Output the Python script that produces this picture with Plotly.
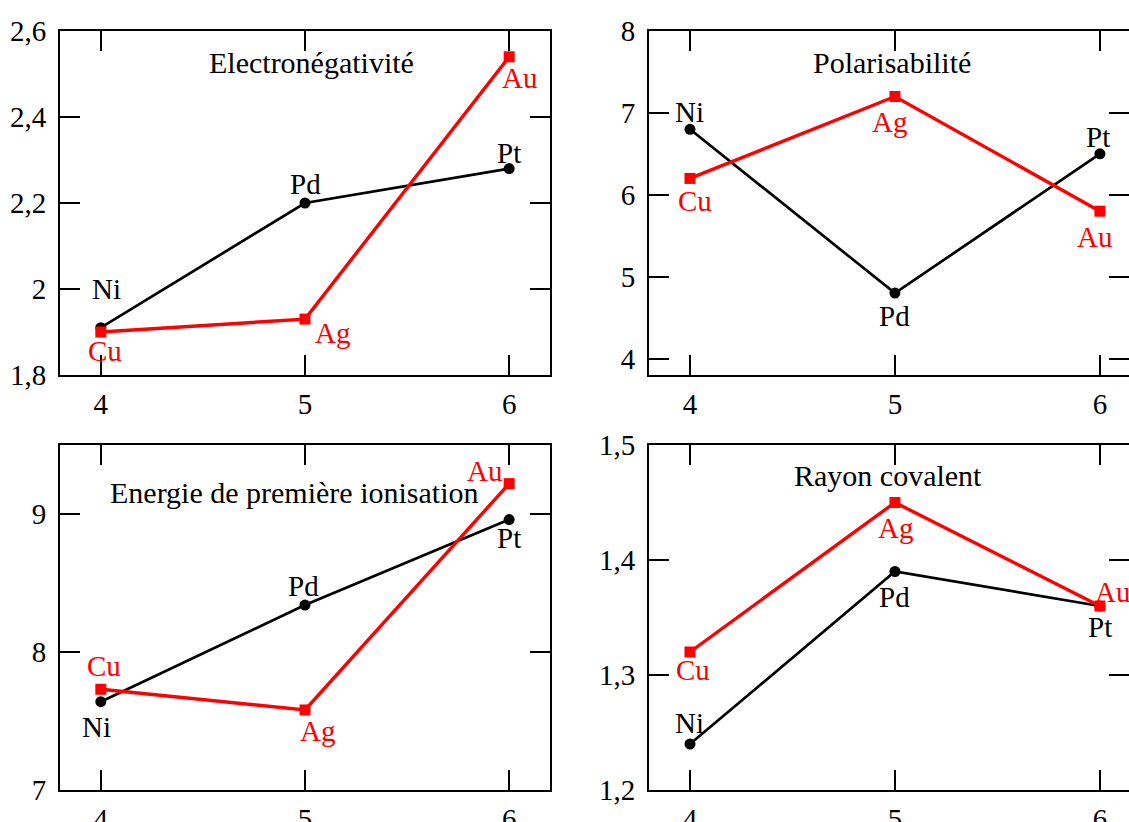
import plotly.graph_objects as go

# Periods (x axis) and element symbols for groups 10 and 11
periods = [4, 5, 6]
group10 = ["Ni", "Pd", "Pt"]
group11 = ["Cu", "Ag", "Au"]

# Property values
electroneg_g10 = [1.91, 2.20, 2.28]
electroneg_g11 = [1.90, 1.93, 2.54]
polar_g10 = [6.8, 4.8, 6.5]
polar_g11 = [6.2, 7.2, 5.8]
ionisation_g10 = [7.64, 8.34, 8.96]
ionisation_g11 = [7.73, 7.58, 9.22]
radius_g10 = [1.24, 1.39, 1.36]
radius_g11 = [1.32, 1.45, 1.36]

titles = ["Electronégativité", "Polarisabilité",
          "Energie de première ionisation", "Rayon covalent"]

FONT = "Liberation Serif, Times New Roman, Tinos, DejaVu Serif, serif"
W, H = 1129, 822
BLACK, RED = "#000000", "#ff0000"
TXT = 29

# panel layout: domains in pixels converted to paper fractions
xl = [60 / W, 550 / W]
xr = [649 / W, 1.0]
yt = [1 - 375 / H, 1 - 31 / H]
yb = [1 - 790 / H, 1 - 445 / H]
panels = [
    dict(xd=xl, yd=yt, xr=[3.8, 6.2], yr=[1.8, 2.6], dt=0.2, right=False,
         g10=electroneg_g10, g11=electroneg_g11, title_xy=(311, 62),
         off10=[(6, -39), (0, -19), (0, -16)], off11=[(4, 19), (27, 14), (10, 21)]),
    dict(xd=xr, yd=yt, xr=[3.8, 6.142], yr=[3.8, 8], dt=1, right=True,
         g10=polar_g10, g11=polar_g11, title_xy=(892, 62),
         off10=[(0, -17), (0, 23), (-2, -17)], off11=[(5, 23), (-5, 25), (-5, 26)]),
    dict(xd=xl, yd=yb, xr=[3.8, 6.2], yr=[7, 9.5], dt=1, right=False,
         g10=ionisation_g10, g11=ionisation_g11, title_xy=(294, 492),
         off10=[(-4, 25), (-2, -19), (0, 18)], off11=[(3, -23), (12, 21), (-25, -13)]),
    dict(xd=xr, yd=yb, xr=[3.8, 6.142], yr=[1.2, 1.5], dt=0.1, right=True,
         g10=radius_g10, g11=radius_g11, title_xy=(888, 475),
         off10=[(0, -21), (0, 25), (0, 21)], off11=[(3, 18), (1, 25), (13, -14)]),
]

fig = go.Figure()
layout = dict(
    template="none",
    width=W, height=H, margin=dict(l=0, r=0, t=0, b=0, pad=0),
    paper_bgcolor="white", plot_bgcolor="white",
    showlegend=False, separators=", ",
    font=dict(family=FONT, size=TXT, color="black"),
)
annotations = []

TICKLEN = 20
extra_idx = 5
for i, p in enumerate(panels, start=1):
    xa = "x" if i == 1 else f"x{i}"
    ya = "y" if i == 1 else f"y{i}"
    xkey = "xaxis" if i == 1 else f"xaxis{i}"
    ykey = "yaxis" if i == 1 else f"yaxis{i}"
    layout[xkey] = dict(
        domain=p["xd"], range=p["xr"], anchor=ya, tickvals=periods,
        ticks="inside", ticklen=TICKLEN, tickwidth=2, tickcolor="black",
        showline=True, linewidth=2, linecolor="black", mirror="ticks",
        showgrid=False, zeroline=False, automargin=False,
        tickfont=dict(family=FONT, size=TXT, color="black"), ticklabelstandoff=2,
    )
    layout[ykey] = dict(
        domain=p["yd"], range=p["yr"], anchor=xa, dtick=p["dt"], tick0=0,
        ticks="inside", ticklen=TICKLEN, tickwidth=2, tickcolor="black",
        showline=True, linewidth=2, linecolor="black",
        mirror=False if p["right"] else "ticks",
        showgrid=False, zeroline=False, automargin=False,
        tickfont=dict(family=FONT, size=TXT, color="black"), ticklabelstandoff=6,
    )
    red_ya = ya
    if p["right"]:
        # right-hand ticks only (the frame runs past the page edge)
        ekey = f"yaxis{extra_idx}"
        red_ya = f"y{extra_idx}"
        layout[ekey] = dict(
            overlaying=ya, anchor=xa, side="right", range=p["yr"],
            dtick=p["dt"], tick0=0, ticks="inside", ticklen=TICKLEN,
            tickwidth=2, tickcolor="black", showticklabels=False,
            showline=False, showgrid=False, zeroline=False, automargin=False,
        )
        extra_idx += 1

    fig.add_trace(go.Scatter(
        x=periods, y=p["g10"], xaxis=xa, yaxis=ya, mode="lines+markers",
        line=dict(color=BLACK, width=2.7),
        marker=dict(symbol="circle", size=11, color=BLACK),
        cliponaxis=False, hoverinfo="skip",
    ))
    fig.add_trace(go.Scatter(
        x=periods, y=p["g11"], xaxis=xa, yaxis=red_ya, mode="lines+markers",
        line=dict(color=RED, width=3.4),
        marker=dict(symbol="square", size=11, color=RED),
        cliponaxis=False, hoverinfo="skip",
    ))

    for names, vals, offs, col in ((group10, p["g10"], p["off10"], BLACK),
                                   (group11, p["g11"], p["off11"], RED)):
        for name, xv, yv, (dx, dy) in zip(names, periods, vals, offs):
            annotations.append(dict(
                x=xv, y=yv, xref=xa, yref=ya, text=name, showarrow=False,
                xshift=dx, yshift=-dy, xanchor="center", yanchor="middle",
                font=dict(family=FONT, size=TXT, color=col),
            ))

    tx, ty = p["title_xy"]
    annotations.append(dict(
        x=tx / W, y=1 - ty / H, xref="paper", yref="paper",
        text=titles[i - 1], showarrow=False, xanchor="center", yanchor="middle",
        font=dict(family=FONT, size=30, color="black"),
    ))

layout["annotations"] = annotations
fig.update_layout(**layout)
fig.write_html("out.html")
